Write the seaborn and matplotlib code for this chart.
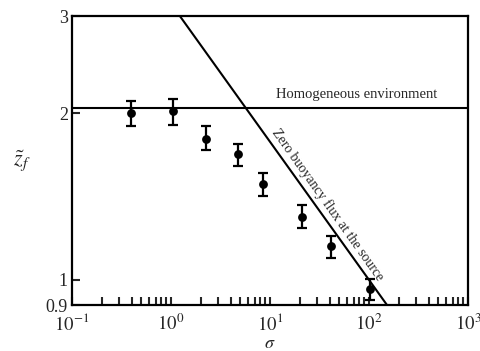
import numpy as np
import pandas as pd
import matplotlib
matplotlib.use("Agg")
import matplotlib.pyplot as plt
import seaborn as sns
from matplotlib.ticker import LogLocator, FixedLocator, FixedFormatter, NullFormatter, NullLocator

# Data
sigma = [0.39, 1.04, 2.26, 4.8, 8.4, 21.0, 41.0, 102.0]
zf = [2.00, 2.02, 1.80, 1.69, 1.49, 1.30, 1.15, 0.963]
zf_low = [1.90, 1.906, 1.715, 1.605, 1.418, 1.241, 1.096, 0.918]
zf_high = [2.105, 2.12, 1.898, 1.764, 1.561, 1.364, 1.200, 1.002]
homog_level = 2.05
zero_flux_coef = 3.16
zero_flux_exp = -0.25
yticks = [0.9, 1, 2, 3]
ytick_labels = ["0.9", "1", "2", "3"]
xticks = [0.1, 1, 10, 100, 1000]
xtick_labels = [r"$10^{-1}$", r"$10^{0}$", r"$10^{1}$", r"$10^{2}$", r"$10^{3}$"]

sns.set_theme(style="ticks")
plt.rcParams["font.family"] = ["Liberation Serif", "DejaVu Serif"]
plt.rcParams["mathtext.fontset"] = "stix"

df = pd.DataFrame({"sigma": sigma, "zf": zf, "lo": zf_low, "hi": zf_high})

fig = plt.figure(figsize=(4.81, 3.51), dpi=100)
ax = fig.add_axes([0.1497, 0.131, 0.8233, 0.823])
ax.set_xscale("log")
ax.set_yscale("log")
ax.set_xlim(0.1, 1000)
ax.set_ylim(0.9, 3)

yerr = np.vstack([df["zf"] - df["lo"], df["hi"] - df["zf"]])
ax.errorbar(df["sigma"], df["zf"], yerr=yerr, fmt="none", ecolor="black",
            elinewidth=1.6, capsize=3.3, capthick=1.6, zorder=3)
sns.scatterplot(data=df, x="sigma", y="zf", ax=ax, color="black", s=40,
                edgecolor="black", linewidth=0, zorder=4, legend=False)

ax.axhline(homog_level, color="black", lw=1.5)
xs = np.logspace(-1, 3, 200)
ax.plot(xs, zero_flux_coef * xs ** zero_flux_exp, color="black", lw=1.5)

ax.text(75, 2.13, "Homogeneous environment", fontsize=10.5, ha="center", va="baseline")
ax.text(38.5, 1.37, "Zero buoyancy flux at the source", fontsize=10,
        rotation=-54.6, ha="center", va="center", rotation_mode="anchor")

for s in ax.spines.values():
    s.set_linewidth(1.6)
    s.set_color("black")

ax.xaxis.set_major_locator(FixedLocator(xticks))
ax.xaxis.set_major_formatter(FixedFormatter(xtick_labels))
ax.xaxis.set_minor_locator(LogLocator(base=10, subs=np.arange(2, 10)))
ax.xaxis.set_minor_formatter(NullFormatter())
ax.yaxis.set_major_locator(FixedLocator(yticks))
ax.yaxis.set_major_formatter(FixedFormatter(ytick_labels))
ax.yaxis.set_minor_locator(NullLocator())

ax.tick_params(axis="x", which="both", direction="in", length=6, width=1.5,
               labelsize=13.5, pad=6, top=False)
ax.tick_params(axis="y", which="both", direction="in", length=6, width=1.5,
               labelsize=13, pad=3, right=False)

ax.set_xlabel(r"$\sigma$", fontsize=13)
ax.xaxis.set_label_coords(0.5, -0.133)
ax.xaxis.label.set_va("center")
ax.set_ylabel(r"$\tilde{z}_f$", fontsize=16, rotation=0, va="center", ha="center")
ax.yaxis.set_label_coords(-0.126, 0.50)

fig.savefig("out.png", dpi=100)
